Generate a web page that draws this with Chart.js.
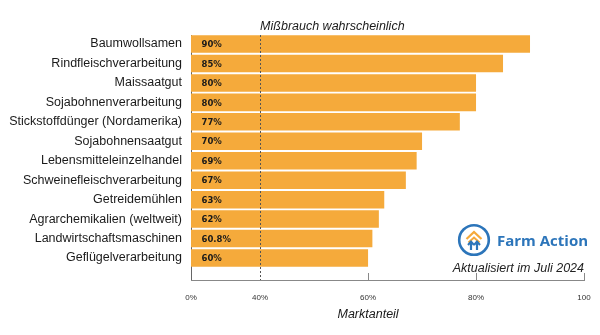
<!DOCTYPE html>
<html>
<head>
<meta charset="utf-8">
<script src="https://cdn.jsdelivr.net/npm/chart.js@4.4.0/dist/chart.umd.min.js"></script>
<style>
    html, body { margin: 0; padding: 0; background: #fff; }
    #wrap { position: relative; width: 600px; height: 335px; }
    #logo { position: absolute; left: 457px; top: 223px; width: 34px; height: 34px; }
    #brand { position: absolute; left: 497px; top: 230px; font: bold 15px "Open Sans", sans-serif; color: #2c75ba; line-height: 20px; white-space: nowrap; }
    #updated { position: absolute; right: 16px; top: 260px; font: italic 12.5px "Liberation Sans", Arial, sans-serif; color: #222; line-height: 16px; white-space: nowrap; }
</style>
</head>
<body>
<div id="wrap">
    <canvas id="chart" width="600" height="335"></canvas>
    <svg id="logo" viewBox="0 0 34 34">
        <circle cx="17" cy="17" r="14.8" fill="none" stroke="#2c75ba" stroke-width="2.6"/>
        <polyline points="9.5,16 17,9 24.5,16" fill="none" stroke="#f5a93a" stroke-width="2.2"/>
        <polyline points="11.5,19.5 17,14.5 22.5,19.5" fill="none" stroke="#f5a93a" stroke-width="2"/>
        <line x1="14" y1="27" x2="14" y2="19" stroke="#2c75ba" stroke-width="2.2"/>
        <line x1="20" y1="27" x2="20" y2="19" stroke="#2c75ba" stroke-width="2.2"/>
        <polyline points="11,22 14,18.5 17,22" fill="none" stroke="#2c75ba" stroke-width="2"/>
        <polyline points="17,22 20,18.5 23,22" fill="none" stroke="#2c75ba" stroke-width="2"/>
    </svg>
    <div id="brand">Farm Action</div>
    <div id="updated">Aktualisiert im Juli 2024</div>
</div>
<script>
    const categories = [
        'Baumwollsamen',
        'Rindfleischverarbeitung',
        'Maissaatgut',
        'Sojabohnenverarbeitung',
        'Stickstoffdünger (Nordamerika)',
        'Sojabohnensaatgut',
        'Lebensmitteleinzelhandel',
        'Schweinefleischverarbeitung',
        'Getreidemühlen',
        'Agrarchemikalien (weltweit)',
        'Landwirtschaftsmaschinen',
        'Geflügelverarbeitung',
    ];
    const shares = [90, 85, 80, 80, 77, 70, 69, 67, 63, 62, 60.8, 60];
    const shareLabels = ['90%', '85%', '80%', '80%', '77%', '70%', '69%', '67%', '63%', '62%', '60.8%', '60%'];
    // the axis is cut: its left end is labelled 0% but sits at about 27 on the scale
    const tickValues = [27.2, 40, 60, 80, 100];
    const tickLabels = ['0%', '40%', '60%', '80%', '100'];
    const abuseLine = 40;

    const labelFont = '"Liberation Sans", Arial, sans-serif';

    const annotations = {
        id: 'annotations',
        afterDatasetsDraw(chart) {
            const { ctx, chartArea } = chart;
            const meta = chart.getDatasetMeta(0);
            ctx.save();
            ctx.fillStyle = '#1a1a1a';
            ctx.font = 'bold 8.5px "DejaVu Sans", sans-serif';
            ctx.textBaseline = 'middle';
            ctx.textAlign = 'left';
            meta.data.forEach((bar, i) => {
                ctx.fillText(shareLabels[i], chartArea.left + 10.5, bar.y + 1);
            });
            ctx.restore();
        },
        afterDraw(chart) {
            const { ctx, chartArea } = chart;
            const x = chart.scales.x;
            ctx.save();
            // short upward tick marks
            ctx.strokeStyle = '#888';
            ctx.lineWidth = 1;
            tickValues.filter((v) => v > abuseLine).forEach((v) => {
                const px = Math.round(x.getPixelForValue(v)) + 0.5;
                ctx.beginPath();
                ctx.moveTo(px, chartArea.bottom - 7);
                ctx.lineTo(px, chartArea.bottom);
                ctx.stroke();
            });
            ctx.fillStyle = '#1a1a1a';
            ctx.font = 'italic 12.5px ' + labelFont;
            ctx.textBaseline = 'middle';
            ctx.textAlign = 'left';
            ctx.fillText('Mißbrauch wahrscheinlich', x.getPixelForValue(abuseLine), chartArea.top - 8);
            ctx.textAlign = 'center';
            ctx.fillText('Marktanteil', x.getPixelForValue(60), 315);
            ctx.restore();
        },
    };

    document.addEventListener('DOMContentLoaded', () => {
        const ctx = document.getElementById('chart').getContext('2d');
        const chart = new Chart(ctx, {
            type: 'bar',
            data: {
                datasets: [
                    {
                        data: shares.map((v, i) => ({ x: v, y: i })),
                        backgroundColor: '#f5aa3b',
                        borderWidth: 0,
                        barPercentage: 0.9,
                        categoryPercentage: 1,
                    },
                ],
            },
            options: {
                indexAxis: 'y',
                responsive: false,
                animation: false,
                layout: { padding: { top: 35, right: 16, left: 0, bottom: 0 } },
                plugins: {
                    legend: { display: false },
                    tooltip: { enabled: false },
                },
                scales: {
                    x: {
                        type: 'linear',
                        bounds: 'data',
                        min: tickValues[0],
                        max: 100,
                        afterBuildTicks: (scale) => {
                            scale.ticks = tickValues.map((v) => ({ value: v }));
                        },
                        afterFit: (scale) => { scale.height = 55; },
                        ticks: {
                            callback: (v, i) => tickLabels[i],
                            font: { family: labelFont, size: 8 },
                            color: '#333',
                            padding: 0,
                            maxRotation: 0,
                        },
                        grid: {
                            drawTicks: true,
                            tickLength: 13,
                            tickColor: 'transparent',
                            z: 1,
                            lineWidth: 1,
                            color: (c) => (c.tick && c.tick.value === abuseLine ? '#555' : 'transparent'),
                        },
                        border: { display: true, z: 1, color: '#888', width: 1, dash: [2, 2] },
                    },
                    y: {
                        type: 'linear',
                        bounds: 'data',
                        offset: false,
                        reverse: true,
                        min: -0.463,
                        max: 12.13,
                        afterBuildTicks: (scale) => {
                            scale.ticks = categories.map((c, i) => ({ value: i }));
                        },
                        afterFit: (scale) => { scale.width = 191; },
                        ticks: {
                            callback: (v) => categories[v],
                            font: { family: labelFont, size: 12.5 },
                            color: '#1a1a1a',
                            padding: 9,
                        },
                        grid: { display: false, drawTicks: false, offset: false },
                        border: { display: true, color: '#666', width: 1 },
                    },
                },
            },
            plugins: [annotations],
        });
    });
</script>
</body>
</html>
